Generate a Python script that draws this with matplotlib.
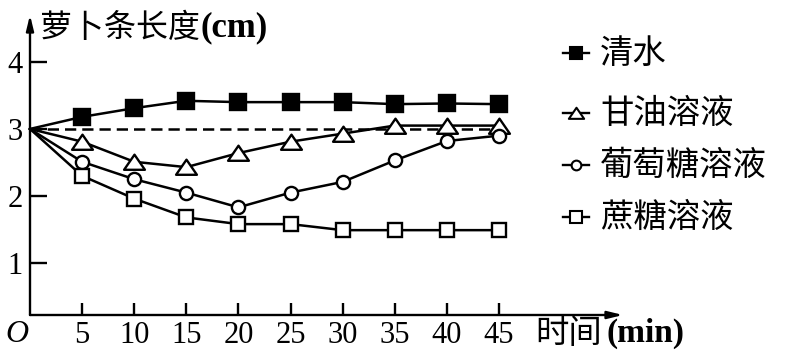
import matplotlib
matplotlib.use("Agg")
import matplotlib.pyplot as plt
from matplotlib.lines import Line2D
from matplotlib.path import Path

# 数据
time_min = [0, 5, 10, 15, 20, 25, 30, 35, 40, 45]
water = [3.0, 3.18, 3.31, 3.42, 3.40, 3.40, 3.40, 3.37, 3.38, 3.37]
glycerol = [3.0, 2.81, 2.51, 2.43, 2.64, 2.81, 2.93, 3.05, 3.05, 3.05]
glucose = [3.0, 2.51, 2.25, 2.05, 1.83, 2.05, 2.21, 2.53, 2.82, 2.90]
sucrose = [3.0, 2.30, 1.96, 1.68, 1.58, 1.58, 1.49, 1.49, 1.49, 1.49]
x_ticks = [5, 10, 15, 20, 25, 30, 35, 40, 45]
y_ticks = [1, 2, 3, 4]
labels = ["清水", "甘油溶液", "葡萄糖溶液", "蔗糖溶液"]

serif = ["Liberation Serif", "Noto Sans CJK SC"]
cjk = ["Noto Sans CJK SC", "Liberation Serif"]

# 宽三角形标记
tri = Path([(-1, -0.7), (1, -0.7), (0, 0.75), (-1, -0.7)],
           [Path.MOVETO, Path.LINETO, Path.LINETO, Path.CLOSEPOLY])

styles = [
    dict(marker="s", ms=11, mfc="black", mec="black"),
    dict(marker=tri, ms=15, mfc="white", mec="black"),
    dict(marker="o", ms=9.5, mfc="white", mec="black"),
    dict(marker="s", ms=10, mfc="white", mec="black"),
]

fig = plt.figure(figsize=(7.88, 3.6), dpi=100)
ax = fig.add_axes([30 / 788, 45 / 360, 593 / 788, 300 / 360])
ax.set_xlim(0, 56.9)
ax.set_ylim(0.224, 4.70)

for s in ax.spines.values():
    s.set_visible(False)

# 坐标轴箭头
arrow = dict(arrowstyle="-|>,head_length=0.9,head_width=0.22", color="black",
             lw=1.7, shrinkA=0, shrinkB=0)
ax.annotate("", xy=(1, 0), xytext=(0, 0), xycoords="axes fraction",
            arrowprops=arrow, annotation_clip=False)
ax.annotate("", xy=(0, 1), xytext=(0, 0), xycoords="axes fraction",
            arrowprops=arrow, annotation_clip=False)

# 虚线 y=3
ax.plot([0, 45.6], [3, 3], color="black", lw=1.8, dashes=(4.5, 2.4), zorder=1)

# 曲线（起点 0 处不画标记）
for ys, st in zip([water, glycerol, glucose, sucrose], styles):
    ax.plot(time_min, ys, color="black", lw=1.8, mew=1.7, zorder=3, clip_on=False,
            markevery=slice(1, None), **st)

ax.set_xticks(x_ticks)
ax.set_yticks(y_ticks)
ax.tick_params(axis="x", direction="in", length=9, width=1.7, pad=4, labelsize=22)
ax.tick_params(axis="y", direction="in", length=12, width=1.7, pad=5, labelsize=22)
for t in ax.get_xticklabels() + ax.get_yticklabels():
    t.set_family(serif)

fig.text(5 / 788, 1 - 335 / 360, "O", family=serif, style="italic", fontsize=23,
         va="center", ha="left")

# 轴标题：中文 + 加粗的单位
fig.text(40 / 788, 1 - 28 / 360, "萝卜条长度", family=cjk, fontsize=23,
         va="center", ha="left")
fig.text(200 / 788, 1 - 28 / 360, "(cm)", family=serif, fontsize=25,
         weight="bold", va="center", ha="left")
fig.text(535 / 788, 1 - 333 / 360, "时间", family=cjk, fontsize=24,
         va="center", ha="left")
fig.text(607 / 788, 1 - 333 / 360, "(min)", family=serif, fontsize=24,
         weight="bold", va="center", ha="left")

# 图例
leg_y = [53, 113, 165, 217]
leg_ms = [8, 11, 7, 8]
for lab, st, py, ms in zip(labels, styles, leg_y, leg_ms):
    yy = 1 - py / 360
    st2 = dict(st)
    st2["ms"] = ms
    fig.add_artist(Line2D([563 / 788, 576 / 788, 589 / 788], [yy, yy, yy],
                          color="black", lw=1.7, mew=1.5, markevery=[1], **st2))
    fig.text(600 / 788, yy, lab, family=cjk, fontsize=24, va="center", ha="left")

fig.savefig("out.png", dpi=100)
